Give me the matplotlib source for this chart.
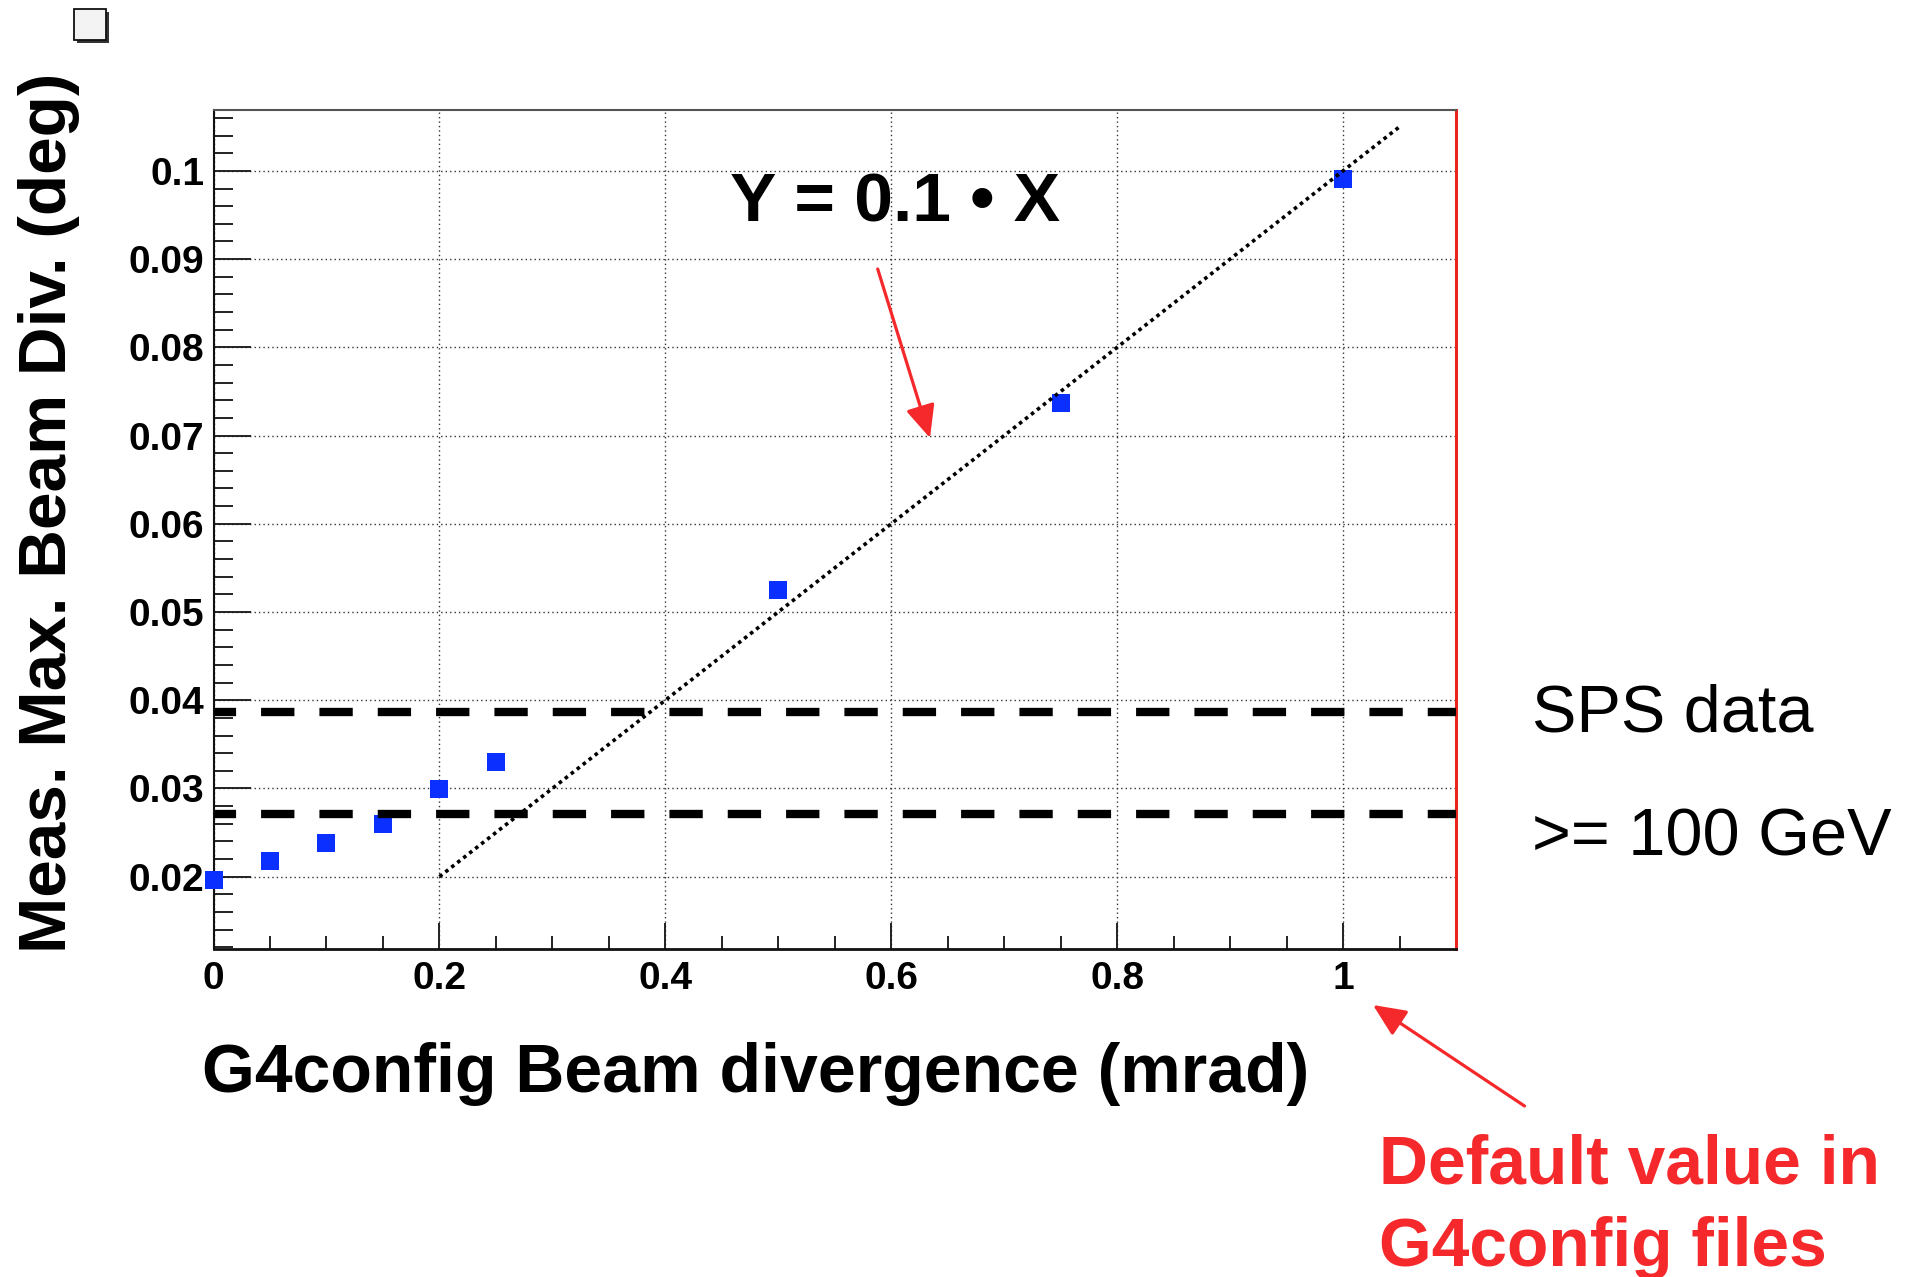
import matplotlib
matplotlib.use("Agg")
import matplotlib.pyplot as plt
from matplotlib.patches import Rectangle, FancyArrowPatch
from matplotlib.ticker import FixedLocator, FixedFormatter, MultipleLocator

plt.rcParams['font.family'] = ['Liberation Sans', 'DejaVu Sans']

# ---- data -------------------------------------------------------------
beam_div_mrad = [0.0, 0.05, 0.10, 0.15, 0.20, 0.25, 0.50, 0.75, 1.00]
meas_max_deg = [0.0196, 0.0218, 0.0238, 0.0260, 0.0299, 0.0330, 0.0525, 0.0737, 0.0991]

sps_band_deg = [0.0271, 0.0387]          # SPS data >= 100 GeV
fit_slope = 0.1                          # Y = 0.1 * X
fit_x = [0.2, 1.05]

x_ticks = [0, 0.2, 0.4, 0.6, 0.8, 1.0]
x_tick_labels = ['0', '0.2', '0.4', '0.6', '0.8', '1']
y_ticks = [0.02, 0.03, 0.04, 0.05, 0.06, 0.07, 0.08, 0.09, 0.10]
y_tick_labels = ['0.02', '0.03', '0.04', '0.05', '0.06', '0.07', '0.08', '0.09', '0.1']

x_range = (0.0, 1.1)
y_range = (0.0118, 0.1069)

# ---- figure -----------------------------------------------------------
W, H = 1919, 1277
fig = plt.figure(figsize=(W / 100, H / 100), dpi=100)
fig.patch.set_facecolor('white')


def fpos(px, py):
    """Pixel position (origin top-left) -> figure fraction."""
    return px / W, 1 - py / H


left, right, top, bottom = 213.5, 1456.0, 110.0, 949.0
ax = fig.add_axes([left / W, 1 - bottom / H, (right - left) / W, (bottom - top) / H])
ax.set_xlim(*x_range)
ax.set_ylim(*y_range)

# axis frame
ax.spines['left'].set_color('#111111')
ax.spines['left'].set_linewidth(1.5)
ax.spines['bottom'].set_color('#111111')
ax.spines['bottom'].set_linewidth(2.0)
ax.spines['top'].set_color('#555555')
ax.spines['top'].set_linewidth(1.5)
ax.spines['right'].set_color('#e8261c')
ax.spines['right'].set_linewidth(2.2)

# ticks
ax.xaxis.set_major_locator(FixedLocator(x_ticks))
ax.xaxis.set_major_formatter(FixedFormatter(x_tick_labels))
ax.xaxis.set_minor_locator(MultipleLocator(0.05))
ax.yaxis.set_major_locator(FixedLocator(y_ticks))
ax.yaxis.set_major_formatter(FixedFormatter(y_tick_labels))
ax.yaxis.set_minor_locator(MultipleLocator(0.002))

ax.tick_params(axis='both', which='both', direction='in', color='#222222',
               top=False, right=False)
ax.tick_params(axis='y', which='major', length=26.5, width=1.4, pad=6.5)
ax.tick_params(axis='y', which='minor', length=13.4, width=1.4)
ax.tick_params(axis='x', which='major', length=18.5, width=1.4, pad=8.5)
ax.tick_params(axis='x', which='minor', length=9.6, width=1.4)
for lab in ax.get_xticklabels() + ax.get_yticklabels():
    lab.set_fontsize(28)
    lab.set_fontweight('bold')

# grid
ax.grid(which='major', color='#333333', linestyle=(0, (1, 2.2)), linewidth=1.0)
ax.set_axisbelow(True)

# measured points
ax.plot(beam_div_mrad, meas_max_deg, linestyle='none', marker='s', markersize=13,
        color='#0b2fff', markeredgewidth=0, zorder=3, clip_on=False)

# reference line Y = 0.1 * X
ax.plot(fit_x, [fit_slope * v for v in fit_x], color='black', linewidth=2.6,
        linestyle=(0, (1, 1.1)), zorder=4)

# SPS band
for yv in sps_band_deg:
    ax.axhline(yv, color='black', linewidth=6.0,
               linestyle=(1.35, (4.0, 3.0)), zorder=5)

# ---- texts ------------------------------------------------------------
fig.text(*fpos(66, 953), 'Meas. Max. Beam Div. (deg)', rotation=90,
         rotation_mode='anchor', ha='left', va='baseline',
         fontsize=48.6, fontweight='bold')
fig.text(*fpos(202, 1092), 'G4config Beam divergence (mrad)', ha='left',
         va='baseline', fontsize=49, fontweight='bold')
fig.text(*fpos(730, 221.7), 'Y = 0.1 \u2022 X', ha='left', va='baseline',
         fontsize=50, fontweight='bold')
fig.text(*fpos(1532, 732), 'SPS data', ha='left', va='baseline', fontsize=48)
fig.text(*fpos(1532, 855), '>= 100 GeV', ha='left', va='baseline', fontsize=48)

red = '#f5292b'
fig.text(*fpos(1379, 1184), 'Default value in', ha='left', va='baseline',
         fontsize=48.8, fontweight='bold', color=red)
fig.text(*fpos(1379, 1266), 'G4config files', ha='left', va='baseline',
         fontsize=48.8, fontweight='bold', color=red)

# arrows
arrow_style = '-|>,head_length=1.0,head_width=0.45'
a1 = FancyArrowPatch(fpos(877.7, 269), fpos(930, 438), transform=fig.transFigure,
                     arrowstyle=arrow_style, mutation_scale=20, color=red,
                     linewidth=2.3, shrinkA=0, shrinkB=0)
a2 = FancyArrowPatch(fpos(1524.5, 1106), fpos(1373, 1005), transform=fig.transFigure,
                     arrowstyle=arrow_style, mutation_scale=20, color=red,
                     linewidth=2.3, shrinkA=0, shrinkB=0)
fig.patches.extend([a1, a2])

# small box at the top-left corner
bx, by = fpos(74, 40)
bw, bh = 32 / W, 31 / H
sx, sy = fpos(77, 43)
fig.patches.append(Rectangle((sx, sy), bw, bh, transform=fig.transFigure,
                             facecolor='#333333', edgecolor='none'))
fig.patches.append(Rectangle((bx, by), bw, bh, transform=fig.transFigure,
                             facecolor='#f3f3f3', edgecolor='#111111', linewidth=1.3))

fig.savefig('out.png', dpi=100)
